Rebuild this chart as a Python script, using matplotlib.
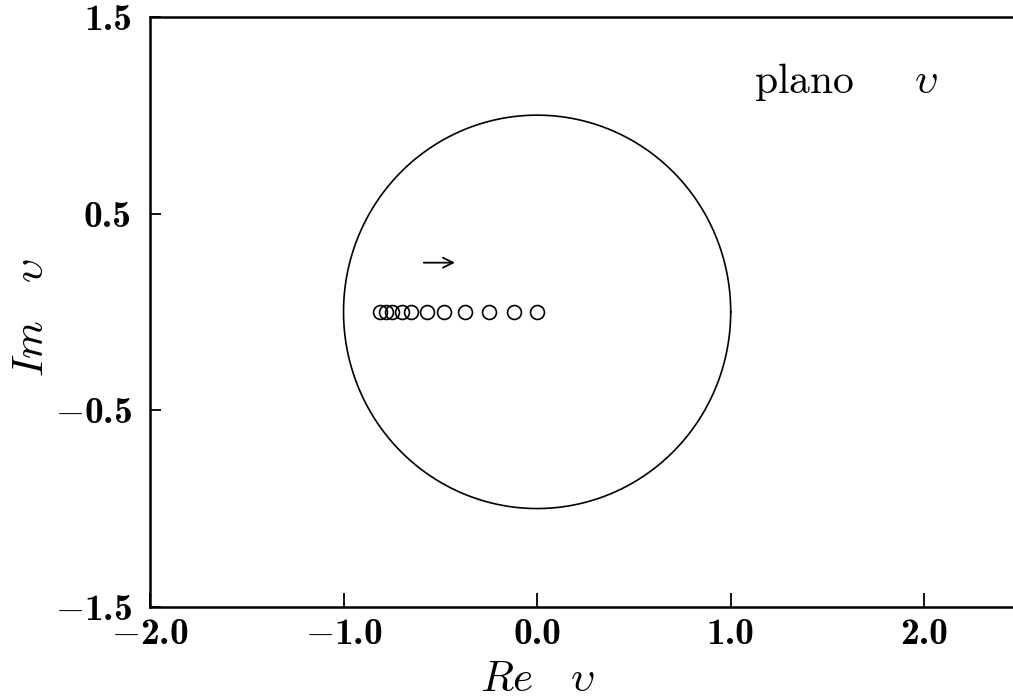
import numpy as np
import matplotlib
matplotlib.use("Agg")
import matplotlib.pyplot as plt

plt.rcParams['mathtext.fontset'] = 'cm'
plt.rcParams['font.family'] = 'serif'
plt.rcParams['font.serif'] = ['cmr10', 'DejaVu Serif']

# iterates of the map, all on the real axis
re_v = [-0.81, -0.78, -0.75, -0.70, -0.65, -0.57, -0.48, -0.37, -0.25, -0.12, 0.0]
im_v = [0.0] * len(re_v)

# unit circle
radius = 1.0

xticks = [-2.0, -1.0, 0.0, 1.0, 2.0]
yticks = [-1.5, -0.5, 0.5, 1.5]


def ticklabel(v):
    s = "%.1f" % abs(v)
    if v < 0:
        return r"$-$" + s
    return s


fig = plt.figure(figsize=(10.13, 7.0), dpi=100)
ax = fig.add_axes([0.148, 0.133, 0.860, 0.843])

t = np.linspace(0, 2 * np.pi, 400)
ax.plot(radius * np.cos(t), radius * np.sin(t), color='black', lw=1.2)

ax.plot(re_v, im_v, 'o', mfc='none', mec='black', ms=10, mew=1.2)

# direction of the iteration
ax.annotate("", xy=(-0.41, 0.25), xytext=(-0.60, 0.25),
            arrowprops=dict(arrowstyle='->', color='black', lw=1.3,
                            mutation_scale=18))

ax.text(1.12, 1.17, r"plano$\quad\ \ \upsilon$", fontsize=30, va='center', ha='left')

ax.set_xlim(-2.0, 2.5)
ax.set_ylim(-1.5, 1.5)
ax.set_xticks(xticks)
ax.set_yticks(yticks)
ax.set_xticklabels([ticklabel(v) for v in xticks])
ax.set_yticklabels([ticklabel(v) for v in yticks])
ax.tick_params(axis='x', direction='in', length=10, width=1.3, pad=8)
ax.tick_params(axis='y', direction='in', length=8, width=1.3, pad=13)
for lbl in ax.get_xticklabels() + ax.get_yticklabels():
    lbl.set_fontfamily('cmb10')
    lbl.set_fontsize(27)

for sp in ax.spines.values():
    sp.set_linewidth(1.8)

ax.set_xlabel(r"$Re\ \ \ \upsilon$", fontsize=31)
ax.xaxis.set_label_coords(2.0 / 4.5, -0.092)
ax.set_ylabel(r"$Im\ \ \ \upsilon$", fontsize=31)
ax.yaxis.set_label_coords(-0.113, 0.49)

fig.savefig("out.png", dpi=100)
